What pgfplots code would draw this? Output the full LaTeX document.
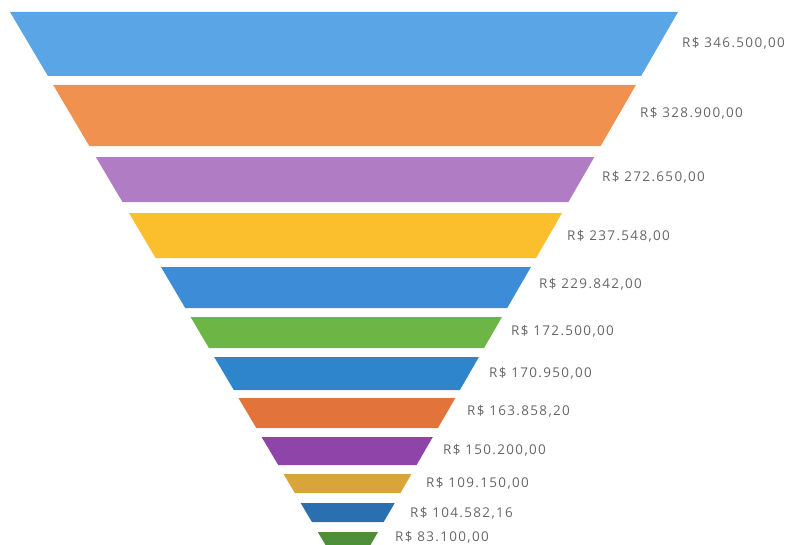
\documentclass[border=0pt]{standalone}
\usepackage{fontspec}
\setmainfont{Open Sans}
\newfontfamily\labfont[LetterSpace=10]{Open Sans}
\usepackage{pgfplots}
\pgfplotsset{compat=1.18}
\definecolor{c1}{HTML}{5AA5E5}
\definecolor{c2}{HTML}{F0914F}
\definecolor{c3}{HTML}{B07CC4}
\definecolor{c4}{HTML}{FBBF2E}
\definecolor{c5}{HTML}{3C8CD8}
\definecolor{c6}{HTML}{6DB544}
\definecolor{c7}{HTML}{2F85CC}
\definecolor{c8}{HTML}{E2733A}
\definecolor{c9}{HTML}{8E44A8}
\definecolor{c10}{HTML}{D9A53A}
\definecolor{c11}{HTML}{2A6FB0}
\definecolor{c12}{HTML}{4F8F3A}
\definecolor{lab}{HTML}{666666}
\begin{document}
\begin{tikzpicture}
\begin{axis}[
  width=792bp, height=545bp, scale only axis,
  xmin=0, xmax=792, ymin=0, ymax=545, y dir=reverse,
  hide axis, clip=false,
]
\addplot[draw=none] coordinates {(0,0) (792,545)};
\addplot[fill=c1, draw=none] coordinates {(10,12) (678,12) (641.1,76) (47.9,76)} -- cycle;
\addplot[fill=c2, draw=none] coordinates {(53.2,85) (635.9,85) (600.7,146) (89.3,146)} -- cycle;
\addplot[fill=c3, draw=none] coordinates {(95.8,157) (594.3,157) (568.4,202) (122.5,202)} -- cycle;
\addplot[fill=c4, draw=none] coordinates {(129,213) (562,213) (536.1,258) (155.6,258)} -- cycle;
\addplot[fill=c5, draw=none] coordinates {(161,267) (530.9,267) (507.2,308) (185.2,308)} -- cycle;
\addplot[fill=c6, draw=none] coordinates {(190.6,317) (502,317) (484.1,348) (208.9,348)} -- cycle;
\addplot[fill=c7, draw=none] coordinates {(214.2,357) (478.9,357) (459.9,390) (233.8,390)} -- cycle;
\addplot[fill=c8, draw=none] coordinates {(238.5,398) (455.3,398) (438,428) (256.3,428)} -- cycle;
\addplot[fill=c9, draw=none] coordinates {(261.6,437) (432.8,437) (416.6,465) (278.2,465)} -- cycle;
\addplot[fill=c10, draw=none] coordinates {(283.5,474) (411.4,474) (400.5,493) (294.8,493)} -- cycle;
\addplot[fill=c11, draw=none] coordinates {(300.7,503) (394.7,503) (383.7,522) (311.9,522)} -- cycle;
\addplot[fill=c12, draw=none] coordinates {(317.8,532) (378,532) (370.5,545) (325.5,545)} -- cycle;
\addplot[draw=none, mark=none, nodes near coords, point meta=explicit symbolic,
  nodes near coords style={anchor=west, inner sep=0pt, font=\labfont\fontsize{13.5}{15}\selectfont, text=lab}]
  coordinates {
  (682,43) [R\$ 346.500,00]
  (640,113) [R\$ 328.900,00]
  (602,177) [R\$ 272.650,00]
  (567,236) [R\$ 237.548,00]
  (539,284) [R\$ 229.842,00]
  (511,331) [R\$ 172.500,00]
  (489,373) [R\$ 170.950,00]
  (467,411) [R\$ 163.858,20]
  (443,450) [R\$ 150.200,00]
  (426,483) [R\$ 109.150,00]
  (410,513) [R\$ 104.582,16]
  (395,537) [R\$ 83.100,00]
  };
\end{axis}
\end{tikzpicture}
\end{document}
